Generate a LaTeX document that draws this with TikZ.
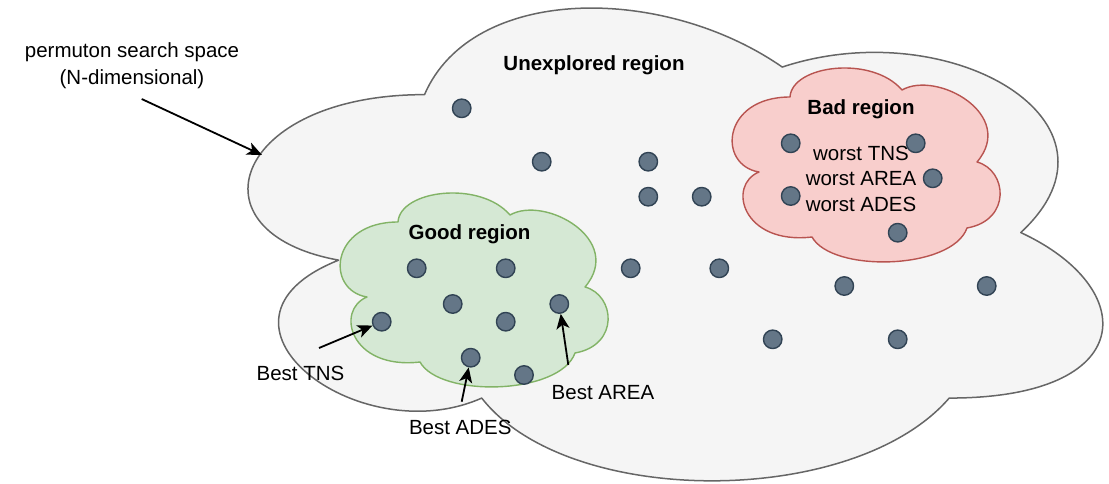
\documentclass[tikz,border=0pt]{standalone}
\usepackage{fontspec}
\setmainfont{Liberation Sans}
\usetikzlibrary{arrows.meta}

\definecolor{spaceFill}{HTML}{F5F5F5}
\definecolor{spaceLine}{HTML}{666666}
\definecolor{goodFill}{HTML}{D5E8D4}
\definecolor{goodLine}{HTML}{82B366}
\definecolor{badFill}{HTML}{F8CECC}
\definecolor{badLine}{HTML}{B85450}
\definecolor{dotFill}{HTML}{647687}
\definecolor{dotLine}{HTML}{314354}

% outline of a small region cloud (placed for the good region)
\newcommand{\regionblob}{(398,222)
  .. controls (400,190) and (480,180) .. (510,215)
  .. controls (545,195) and (625,240) .. (585,287)
  .. controls (615,295) and (620,345) .. (575,353)
  .. controls (560,395) and (440,398) .. (420,362)
  .. controls (350,370) and (335,310) .. (367,297)
  .. controls (325,290) and (330,222) .. (398,222) -- cycle}

\begin{document}
\begin{tikzpicture}[x=1pt, y=-1pt, line join=round,
  sample/.style={circle, fill=dotFill, draw=dotLine, line width=1.4pt,
    minimum size=18.5pt, inner sep=0pt},
  lbl/.style={font=\fontsize{20.5}{25}\selectfont, text=black, inner sep=0pt, anchor=base},
  heading/.style={font=\fontsize{20.5}{25}\selectfont\bfseries, text=black, inner sep=0pt, anchor=base},
  ptr/.style={-{Stealth[length=15pt,width=13pt,inset=4pt]}, line width=1.8pt, black}]

\useasboundingbox (0,0) rectangle (1109,483);

% search space: cloud spanning x0=186, w=954, y0=-43.3, h=551.7
\def\cx{186}\def\cw{954}\def\cy{-43.3}\def\ch{551.7}
\draw[fill=spaceFill, draw=spaceLine, line width=1.5pt]
  ({\cx+0.25*\cw},{\cy+0.25*\ch})
  .. controls ({\cx+0.05*\cw},{\cy+0.25*\ch}) and ({\cx},{\cy+0.5*\ch}) .. ({\cx+0.16*\cw},{\cy+0.55*\ch})
  .. controls ({\cx},{\cy+0.66*\ch}) and ({\cx+0.18*\cw},{\cy+0.9*\ch}) .. ({\cx+0.31*\cw},{\cy+0.8*\ch})
  .. controls ({\cx+0.4*\cw},{\cy+\ch}) and ({\cx+0.7*\cw},{\cy+\ch}) .. ({\cx+0.8*\cw},{\cy+0.8*\ch})
  .. controls ({\cx+\cw},{\cy+0.8*\ch}) and ({\cx+\cw},{\cy+0.6*\ch}) .. ({\cx+0.875*\cw},{\cy+0.5*\ch})
  .. controls ({\cx+\cw},{\cy+0.3*\ch}) and ({\cx+0.8*\cw},{\cy+0.1*\ch}) .. ({\cx+0.625*\cw},{\cy+0.2*\ch})
  .. controls ({\cx+0.5*\cw},{\cy+0.05*\ch}) and ({\cx+0.3*\cw},{\cy+0.05*\ch}) .. ({\cx+0.25*\cw},{\cy+0.25*\ch})
  -- cycle;

% good and bad regions
\draw[fill=goodFill, draw=goodLine, line width=1.4pt] \regionblob;
\begin{scope}[shift={(392,-125)}]
  \draw[fill=badFill, draw=badLine, line width=1.4pt] \regionblob;
\end{scope}

% labels
\node[lbl] (perm1) at (132,57) {permuton search space};
\node[lbl] (perm2) at (132,84) {(N-dimensional)};
\node[heading] (unexp) at (594,70) {Unexplored region};
\node[heading] (good) at (469.5,239) {Good region};
\node[heading] (bad) at (861,114) {Bad region};
\node[lbl] (w1) at (861,160) {worst TNS};
\node[lbl] (w2) at (861,185.5) {worst AREA};
\node[lbl] (w3) at (861,211.5) {worst ADES};
\node[lbl] (btns) at (300.5,380) {Best TNS};
\node[lbl] (bades) at (460.3,434.3) {Best ADES};
\node[lbl] (barea) at (603,399) {Best AREA};

% sampled points in the unexplored part
\node[sample] (u1) at (461.7,108.3) {};
\node[sample] (u2) at (541.7,161.7) {};
\node[sample] (u3) at (648.3,161.7) {};
\node[sample] (u4) at (648.3,196.7) {};
\node[sample] (u5) at (701.7,196.7) {};
\node[sample] (u6) at (630.7,268.3) {};
\node[sample] (u7) at (719.3,268.3) {};
\node[sample] (u8) at (844.3,286) {};
\node[sample] (u9) at (986.7,286) {};
\node[sample] (u10) at (772.7,339.3) {};
\node[sample] (u11) at (897.7,339.3) {};

% sampled points in the good region
\node[sample] (g1) at (416.7,268.3) {};
\node[sample] (g2) at (505.7,268.3) {};
\node[sample] (g3) at (452.7,304) {};
\node[sample] (g4) at (559.3,304) {};
\node[sample] (g5) at (381.7,321.7) {};
\node[sample] (g6) at (505.7,321.7) {};
\node[sample] (g7) at (470.7,357.7) {};
\node[sample] (g8) at (524,375) {};

% sampled points in the bad region
\node[sample] (b1) at (790.7,143.3) {};
\node[sample] (b2) at (915.7,143.3) {};
\node[sample] (b3) at (932.7,178.3) {};
\node[sample] (b4) at (790.7,196) {};
\node[sample] (b5) at (897.7,232.7) {};

% pointers
\coordinate (permTail) at (141.7,99);
\coordinate (spaceEdge) at (262,155);
\coordinate (tnsTail) at (319,348);
\coordinate (adesTail) at (461.7,401.7);
\coordinate (areaTail) at (568.3,365);
\draw[ptr] (permTail) -- (spaceEdge);
\draw[ptr] (tnsTail) -- (g5);
\draw[ptr] (adesTail) -- (g7);
\draw[ptr] (areaTail) -- (g4);
\end{tikzpicture}
\end{document}
